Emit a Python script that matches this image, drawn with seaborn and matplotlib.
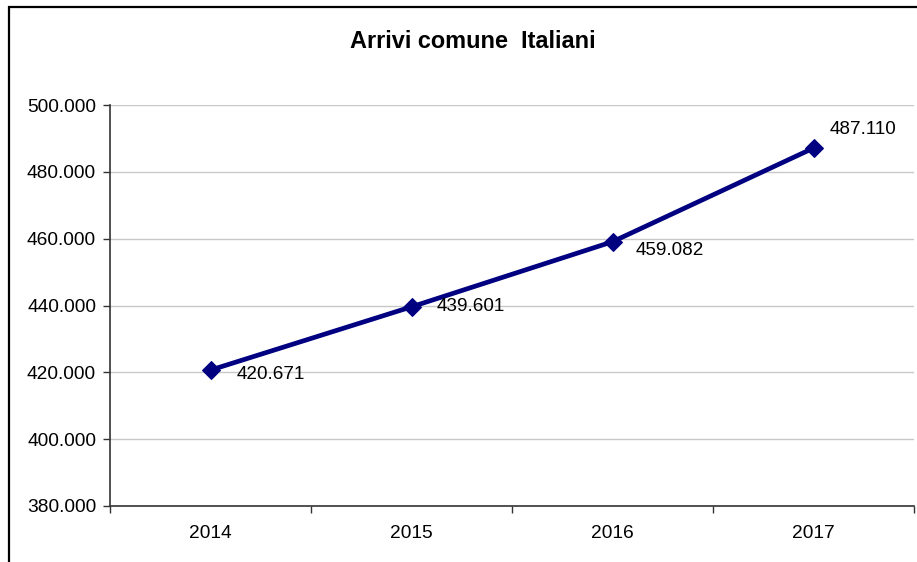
import matplotlib
matplotlib.use("Agg")
import matplotlib.pyplot as plt
from matplotlib.patches import Rectangle
from matplotlib.ticker import FuncFormatter, FixedLocator
import pandas as pd
import seaborn as sns

# Arrivi (Italiani) per anno
anni = ["2014", "2015", "2016", "2017"]
arrivi = [420671, 439601, 459082, 487110]
# posizione delle etichette rispetto al punto (pixel)
label_offsets = [(26, -4), (25, 0), (23, -9), (16, 19)]

y_ticks = [380000, 400000, 420000, 440000, 460000, 480000, 500000]

sns.set_theme(style="white")
plt.rcParams["font.family"] = ["Liberation Sans", "DejaVu Sans"]

df = pd.DataFrame({"anno": anni, "arrivi": arrivi})

W, H = 917, 562
fig = plt.figure(figsize=(W / 100, H / 100), dpi=100)
fig.patch.set_facecolor("white")
ax = fig.add_axes([110 / W, 1 - 506 / H, (914 - 110) / W, (506 - 105) / H])

sns.lineplot(data=df, x="anno", y="arrivi", ax=ax, color="#000080",
             linewidth=3.4, marker="D", markersize=9.5,
             markeredgecolor="#000080", markerfacecolor="#000080", sort=False)

ax.set_xlim(-0.5, len(anni) - 0.5)
ax.set_ylim(y_ticks[0], y_ticks[-1])
ax.set_yticks(y_ticks)
ax.yaxis.set_major_formatter(FuncFormatter(lambda v, p: f"{v:,.0f}".replace(",", ".")))
ax.grid(axis="y", color="#c8c8c8", linewidth=1.0)
ax.set_axisbelow(True)

ax.set_xticks(range(len(anni)))
ax.set_xticklabels(anni)
ax.xaxis.set_minor_locator(FixedLocator([i - 0.5 for i in range(len(anni) + 1)]))
ax.tick_params(axis="x", which="major", length=0, pad=14, labelsize=13.8, colors="black")
ax.tick_params(axis="x", which="minor", bottom=True, length=5, width=1, color="#333333")
ax.tick_params(axis="y", which="major", left=True, length=5, width=1, color="#333333",
               pad=5, labelsize=13.8, labelcolor="black")

ax.set_xlabel("")
ax.set_ylabel("")
for s in ("top", "right"):
    ax.spines[s].set_visible(False)
for s in ("left", "bottom"):
    ax.spines[s].set_color("#333333")
    ax.spines[s].set_linewidth(1.2)

for i, (v, off) in enumerate(zip(arrivi, label_offsets)):
    ax.annotate(f"{v:,.0f}".replace(",", "."), xy=(i, v), xytext=off,
                textcoords="offset pixels", ha="left", va="center",
                fontsize=13.6, color="black")

fig.text(473 / W, 1 - 41 / H, "Arrivi comune  Italiani", ha="center", va="center",
         fontsize=16.9, fontweight="bold", color="black")

# cornice esterna del grafico
fig.add_artist(Rectangle((9 / W, -0.1), 1.2, 1 - 7 / H + 0.1, transform=fig.transFigure,
                         fill=False, edgecolor="black", linewidth=1.6))

fig.savefig("out.png", dpi=100, facecolor="white")
